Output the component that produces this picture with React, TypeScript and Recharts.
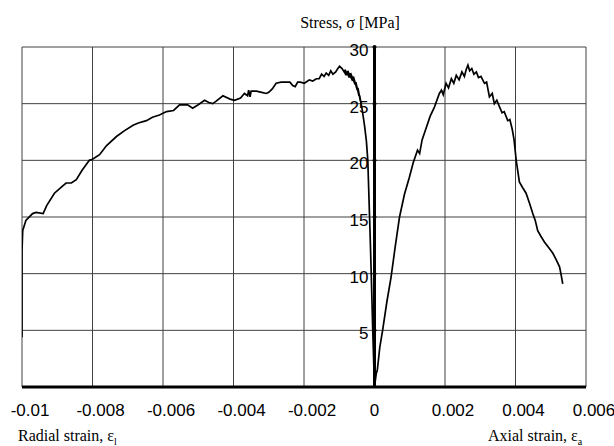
import { LineChart, Line, XAxis, YAxis, ReferenceLine, ReferenceDot } from 'recharts'

// strain ticks on the x axis, stress ticks on the y axis
const strainTicks = [-0.01, -0.008, -0.006, -0.004, -0.002, 0, 0.002, 0.004, 0.006]
const stressTicks = [0, 5, 10, 15, 20, 25, 30]

const radialStrain = [
  0, -0.00002, -0.00005, -0.00009, -0.00012, -0.00014, -0.00017, -0.00019, -0.00023, -0.00028,
  -0.00034, -0.00038, -0.00042, -0.0004, -0.00047, -0.00044, -0.00053, -0.00049, -0.0006, -0.00055,
  -0.00068, -0.00062, -0.00076, -0.00071, -0.00084, -0.0008, -0.00092, -0.00099, -0.00104, -0.0011,
  -0.00118, -0.00124, -0.0013, -0.00137, -0.00143, -0.0015, -0.00157, -0.00165, -0.00175, -0.00185,
  -0.00199, -0.0021, -0.00218, -0.00225, -0.00232, -0.0024, -0.0025, -0.00265, -0.00279, -0.0029,
  -0.003, -0.00307, -0.0032, -0.00335, -0.0035, -0.00353, -0.00357, -0.0036, -0.00369, -0.0038,
  -0.00397, -0.0041, -0.0043, -0.0045, -0.00459, -0.0047, -0.00482, -0.005, -0.00516, -0.0053,
  -0.00553, -0.0057, -0.0059, -0.0061, -0.0063, -0.00647, -0.0067, -0.00685, -0.0071, -0.00732,
  -0.0076, -0.0078, -0.008, -0.00809, -0.0083, -0.00846, -0.0086, -0.00875, -0.0089, -0.00908,
  -0.0093, -0.0094, -0.0096, -0.0097, -0.00989, -0.00998, -0.01, -0.01, -0.01,
]
const radialStress = [
  0, 2, 5, 9.7, 13, 15, 18, 20, 21.7, 23,
  24.3, 25, 25.7, 25.2, 26.4, 25.7, 26.9, 26.2, 27.4, 26.7,
  27.7, 27.0, 27.9, 27.3, 28.0, 27.5, 28.1, 28.3, 28.1, 27.8,
  27.6, 27.9, 27.5, 27.7, 27.4, 27.6, 27.2, 27.2, 27.0, 27.1,
  26.8, 26.9, 26.9, 26.5, 26.6, 26.9, 26.9, 26.9, 26.8, 26.3,
  26.0, 25.9, 26.0, 26.1, 26.1, 25.6, 26.2, 25.7, 25.9, 25.5,
  25.3, 25.4, 25.7, 25.2, 25.0, 25.1, 25.3, 24.9, 24.6, 24.9,
  24.9, 24.4, 24.3, 24.0, 23.8, 23.5, 23.3, 23.1, 22.6, 22.1,
  21.3, 20.5, 20.1, 20.0, 19.1, 18.3, 18.0, 18.0, 17.6, 17.1,
  16.0, 15.3, 15.4, 15.3, 14.7, 13.8, 12.0, 9.4, 4.4,
]

// axial strain (positive side)
const axialStrain = [
  0, 0.00005, 0.00008, 0.00015, 0.00023, 0.00035, 0.00047, 0.00058, 0.00071, 0.00085,
  0.00099, 0.0011, 0.00122, 0.00128, 0.00135, 0.00147, 0.00158, 0.0017, 0.00184, 0.0019,
  0.00195, 0.00203, 0.0021, 0.00218, 0.00225, 0.00232, 0.0024, 0.00248, 0.00255, 0.0026,
  0.00265, 0.0027, 0.00276, 0.00282, 0.00289, 0.00295, 0.00302, 0.00312, 0.00318, 0.00326,
  0.00334, 0.0034, 0.00347, 0.00355, 0.00362, 0.00368, 0.00378, 0.00384, 0.00391, 0.00396,
  0.00402, 0.00411, 0.0042, 0.0043, 0.0044, 0.00449, 0.00456, 0.00463, 0.00472, 0.00482,
  0.00494, 0.00506, 0.00516, 0.00525, 0.0053, 0.00534,
]
const axialStress = [
  0, 1.2, 1.5, 3.5, 5.0, 7.5, 9.7, 12.2, 15.0, 17.0,
  18.5, 19.8, 20.9, 20.6, 21.8, 22.9, 23.9, 24.7, 25.9, 26.2,
  25.8, 26.8, 26.4, 27.2, 26.8, 27.5, 27.1, 27.8, 27.4, 28.0,
  28.4, 27.9, 28.1, 27.6, 27.8, 27.3, 27.4, 26.8, 26.9, 25.6,
  25.9, 25.0, 25.3, 24.7, 24.2, 24.3, 23.5, 23.6, 22.7, 21.8,
  20.0, 18.1, 17.6, 17.1, 16.2, 15.3, 14.7, 13.8, 13.3, 12.8,
  12.3, 11.8, 11.2, 10.6, 9.8, 9.1,
]

const radialData = radialStrain.map((x, i) => ({ x, y: radialStress[i] }))
const axialData = axialStrain.map((x, i) => ({ x, y: axialStress[i] }))

const sans = 'Liberation Sans, Arial, sans-serif'
const serif = 'Liberation Serif, Times New Roman, serif'
const gridColor = '#404040'

// eslint-disable-next-line @typescript-eslint/no-explicit-any
const StrainTick = ({ x, y, payload }: any) => (
  <text
    x={x + (payload.value === 0 ? 0 : 8)}
    y={y + 21}
    textAnchor="middle"
    fill="#000"
    fontSize={17}
    fontFamily={sans}
  >
    {String(payload.value)}
  </text>
)

export default function App() {
  return (
    <div style={{ position: 'absolute', left: 0, top: 0, width: 614, height: 446, background: '#fff' }}>
      <div
        style={{
          position: 'absolute',
          left: 250,
          width: 200,
          top: 13,
          textAlign: 'center',
          fontFamily: serif,
          fontSize: 16,
          lineHeight: '20px',
        }}
      >
        Stress, σ [MPa]
      </div>
      <LineChart width={614} height={446} data={radialData} margin={{ top: 47, right: 28, left: 22, bottom: 39 }}>
        <XAxis
          type="number"
          dataKey="x"
          domain={[-0.01, 0.006]}
          ticks={strainTicks}
          tick={<StrainTick />}
          tickLine={false}
          axisLine={false}
          height={20}
          allowDataOverflow
        />
        <YAxis
          type="number"
          domain={[0, 30]}
          ticks={stressTicks}
          width={0}
          tick={false}
          tickLine={false}
          axisLine={false}
        />
        {/* grid drawn as reference lines so the border and every row show */}
        {strainTicks.map((v) => (
          <ReferenceLine key={`v${v}`} x={v} stroke={gridColor} strokeWidth={1} />
        ))}
        {stressTicks.slice(1).map((v) => (
          <ReferenceLine key={`h${v}`} y={v} stroke={gridColor} strokeWidth={1} />
        ))}
        <ReferenceLine y={0} stroke="#000" strokeWidth={3} />
        <ReferenceLine x={0} stroke="#000" strokeWidth={3} />
        {stressTicks.slice(1).map((v) => (
          <ReferenceDot
            key={v}
            x={0}
            y={v}
            r={2}
            fill="#000"
            stroke="none"
            label={{ value: String(v), position: 'left', offset: 4, fill: '#000', fontSize: 17, fontFamily: sans, dy: 3 }}
          />
        ))}
        <Line
          data={radialData}
          dataKey="y"
          type="linear"
          stroke="#000"
          strokeWidth={1.7}
          dot={false}
          isAnimationActive={false}
        />
        <Line
          data={axialData}
          dataKey="y"
          type="linear"
          stroke="#000"
          strokeWidth={1.7}
          dot={false}
          isAnimationActive={false}
        />
      </LineChart>
      <div style={{ position: 'absolute', left: 18, top: 426, fontFamily: serif, fontSize: 16, lineHeight: '20px' }}>
        Radial strain, ε<sub style={{ fontSize: 10 }}>l</sub>
      </div>
      <div style={{ position: 'absolute', left: 488, top: 426, fontFamily: serif, fontSize: 16, lineHeight: '20px' }}>
        Axial strain, ε<sub style={{ fontSize: 10 }}>a</sub>
      </div>
    </div>
  )
}
